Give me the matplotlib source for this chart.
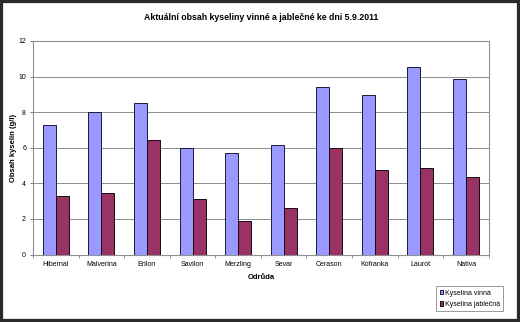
import matplotlib.pyplot as plt
import numpy as np
from matplotlib.patches import Rectangle

plt.rcParams['font.family'] = ['Liberation Sans', 'DejaVu Sans']

# acid content per variety (g/l)
odrudy = ['Hibernal', 'Malverina', 'Erilon', 'Savilon', 'Merzling',
          'Sevar', 'Cerason', 'Kofranka', 'Laurot', 'Nativa']
vinna = [7.27, 7.99, 8.53, 5.97, 5.69, 6.17, 9.39, 8.95, 10.56, 9.86]
jablecna = [3.30, 3.45, 6.43, 3.14, 1.90, 2.62, 5.98, 4.77, 4.86, 4.36]

fig = plt.figure(figsize=(5.2, 3.22), dpi=100)
ax = fig.add_axes([0.0635, 0.2096, 0.8765, 0.6631])

x = np.arange(len(odrudy))
w = 1 / 3.5
ax.bar(x - w / 2, vinna, w, color='#9999FF', edgecolor='#1a1a40', linewidth=0.7,
       label='Kyselina vinná', zorder=3)
ax.bar(x + w / 2, jablecna, w, color='#993366', edgecolor='#1a0a10', linewidth=0.7,
       label='Kyselina jablečná', zorder=3)

ax.set_xlim(-0.5, len(odrudy) - 0.5)
ax.set_ylim(0, 12)
ax.set_yticks(range(0, 13, 2))
ax.set_xticks(x)
ax.set_xticklabels(odrudy, fontsize=5)
ax.set_xticks(np.arange(-0.5, len(odrudy)), minor=True)
ax.tick_params(axis='x', which='major', length=0, pad=5)
ax.tick_params(axis='x', which='minor', length=2, color='#808080')
ax.tick_params(axis='y', labelsize=5, length=2, color='#808080', pad=3)
ax.grid(axis='y', color='#8c8c8c', linewidth=0.7, zorder=0)
for s in ax.spines.values():
    s.set_color('#909090')
    s.set_linewidth(0.8)

ax.set_xlabel('Odrůda', fontsize=5.5, fontweight='bold', labelpad=4)
ax.set_ylabel('Obsah kyselin (g/l)', fontsize=5.5, fontweight='bold')
ax.yaxis.set_label_coords(-0.035, 0.5)
fig.suptitle('Aktuální obsah kyseliny vinné a jablečné ke dni 5.9.2011',
             fontsize=6.3, fontweight='bold', x=0.502, y=0.96)

leg = fig.legend(loc='lower right', bbox_to_anchor=(0.968, 0.033), fontsize=5,
                 frameon=True, fancybox=False, edgecolor='#808080',
                 handlelength=0.55, handleheight=0.55, handletextpad=0.2,
                 borderpad=0.5, labelspacing=0.6, borderaxespad=0)
leg.get_frame().set_linewidth(0.7)

# dark outer frame
fig.patches.append(Rectangle((0, 0), 1, 1, transform=fig.transFigure, fill=False,
                             edgecolor='#2a2a2a', linewidth=4.5, zorder=10))

fig.savefig('out.png', dpi=100)
